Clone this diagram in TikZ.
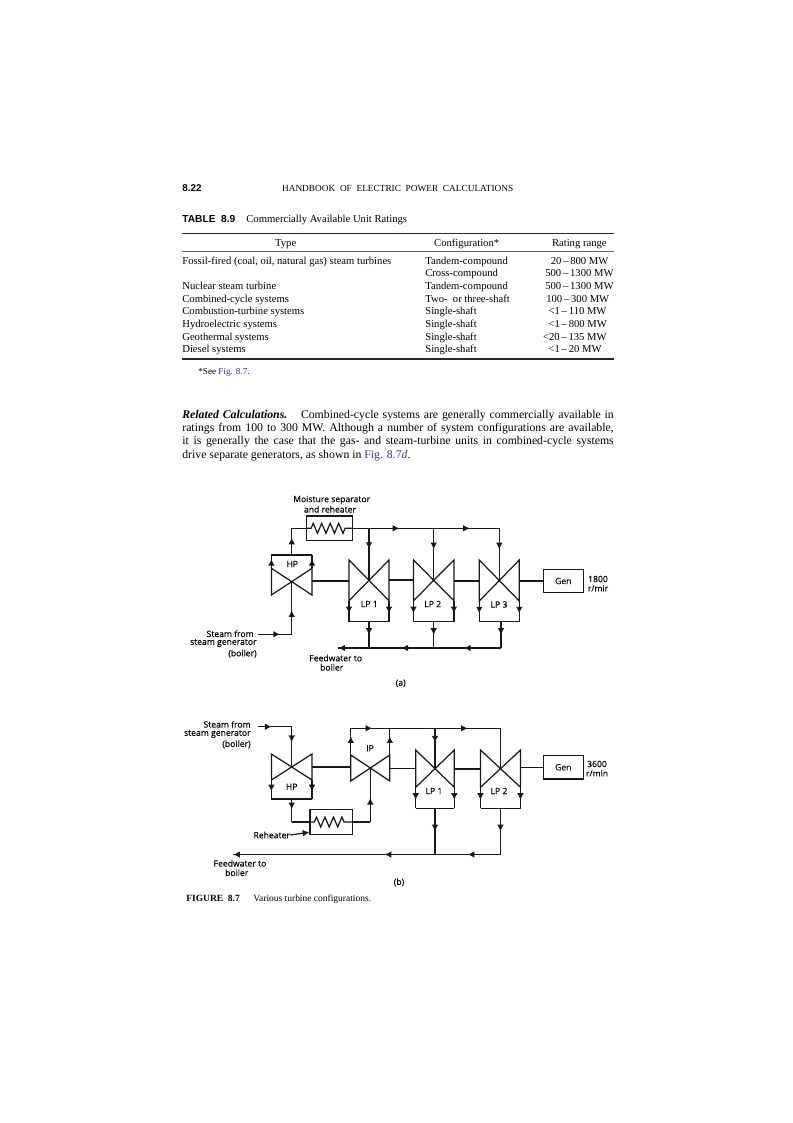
\documentclass[tikz,border=0pt]{standalone}
\usepackage{fontspec}
\setmainfont{Liberation Serif}
\setsansfont{Liberation Sans}
\newfontfamily\figfont[FakeBold=0.35]{Open Sans}
\usetikzlibrary{arrows.meta,decorations.markings,decorations.pathmorphing}
\definecolor{azulref}{RGB}{50,50,150}
\tikzset{
    linea/.style={line width=0.7pt, black!90},
    eje/.style={line width=1.1pt, black!90},
    flecha/.style={postaction={decorate, decoration={markings, mark=at position #1 with {\arrow{Latex[length=3.8pt,width=3.8pt]}}}}},
    serpentin/.style={decorate, decoration={zigzag, segment length=0.17cm, amplitude=0.1cm, pre length=0.1cm, post length=0.1cm}},
    recal/.style={draw, linea, minimum height=0.49cm, inner sep=0pt},
    gen/.style={draw, linea, minimum width=0.8cm, minimum height=0.47cm, inner sep=0pt, font=\figfont\fontsize{4.9}{6}\selectfont},
    etiq/.style={inner sep=0pt, black, font=\figfont\fontsize{4.9}{6}\selectfont},
    tabla/.style={inner sep=0pt, anchor=base west, font=\fontsize{6.05}{7}\selectfont},
    regla/.style={line width=0.7pt, black!85}
}
\begin{document}
\begin{tikzpicture}[x=0.02cm, y=-0.02cm]
    \useasboundingbox (0,0) rectangle (793,1123);

    % Encabezado
    \node[tabla, font=\sffamily\bfseries\fontsize{5.6}{7}\selectfont] (pagina) at (182,191) {8.22};
    \node[tabla, font=\fontsize{5.3}{7}\selectfont, anchor=base] (titulo) at (397.7,191) {HANDBOOK\ \ OF\ \ ELECTRIC\ \ POWER\ \ CALCULATIONS};
    \node[tabla, font=\sffamily\bfseries\fontsize{5.8}{7}\selectfont] (tablanum) at (182,222) {TABLE\ \ 8.9};
    \node[tabla] (tablatit) at (246,222) {Commercially Available Unit Ratings};

    % Tabla
    \coordinate (r1a) at (182,233.3);
    \coordinate (r1b) at (613.5,233.3);
    \coordinate (r2a) at (182,251);
    \coordinate (r2b) at (613.5,251);
    \coordinate (r3a) at (182,359);
    \coordinate (r3b) at (613.5,359);
    \draw[regla] (r1a) -- (r1b);
    \draw[line width=0.3pt, black!60] (r2a) -- (r2b);
    \draw[regla] (r3a) -- (r3b);
    \node[tabla, anchor=base] (col1) at (285.7,246) {Type};
    \node[tabla, anchor=base] (col2) at (466.7,246) {Configuration*};
    \node[tabla, anchor=base] (col3) at (579.3,246) {Rating range};
    \foreach \i/\y/\tipo/\conf/\xr/\rango in {
        1/264.2/{Fossil-fired (coal, oil, natural gas) steam turbines}/{Tandem-compound}/550.5/{20\,--\,800 MW},
        2/276.9/{}/{Cross-compound}/545/{500\,--\,1300 MW},
        3/289.5/{Nuclear steam turbine}/{Tandem-compound}/545/{500\,--\,1300 MW},
        4/302.2/{Combined-cycle systems}/{Two-\ \ or three-shaft}/546/{100\,--\,300 MW},
        5/314.9/{Combustion-turbine systems}/{Single-shaft}/548.3/{<1\,--\,110 MW},
        6/327.5/{Hydroelectric systems}/{Single-shaft}/548.3/{<1\,--\,800 MW},
        7/340.2/{Geothermal systems}/{Single-shaft}/542.7/{<20\,--\,135 MW},
        8/352.9/{Diesel systems}/{Single-shaft}/548.3/{<1\,--\,20 MW}} {
        \node[tabla] (tipo\i) at (182,\y) {\tipo};
        \node[tabla] (conf\i) at (425,\y) {\conf};
        \node[tabla] (rango\i) at (\xr,\y) {\rango};
    }
    \node[tabla, font=\fontsize{5.2}{7}\selectfont] (nota) at (198,374) {*See \textcolor{azulref}{Fig. 8.7}.};

    % Texto
    \node[inner sep=0pt, anchor=north west, text width=8.63cm, align=justify, font=\fontsize{6.7}{7.5}\selectfont] (parrafo) at (182,410) {\textbf{\textit{Related Calculations.}}\hspace{0.6em} Combined-cycle systems are generally commercially available in\linebreak
    ratings from 100 to 300 MW. Although a number of system configurations are available,\linebreak
    it is generally the case that the gas- and steam-turbine units in combined-cycle systems\linebreak
    drive separate generators, as shown in \textcolor{azulref}{Fig. 8.7\textit{d}}.\par};

    % Turbinas con la carcasa abajo
    \foreach \n/\x/\y/\w/\s/\i/\c in {lpuA/369/580/20/20/20.7/621.7, lpdA/433.7/580.7/20.2/20.7/20/621.7, lptA/499.3/581/20/21/20/621.7, hpB/291.7/767.3/20.3/13.3/12.7/799, lpuB/435/769/19.3/19/18.3/808.3, lpdB/500.5/768.3/20/18.3/19/808.3} {
        \coordinate (\n) at (\x,\y);
        \coordinate (\n a) at (\x-\w,\y-\s);
        \coordinate (\n b) at (\x+\w,\y-\s);
        \coordinate (\n c) at (\x-\w,\y+\i);
        \coordinate (\n d) at (\x+\w,\y+\i);
        \coordinate (\n e) at (\x-\w,\c);
        \coordinate (\n f) at (\x+\w,\c);
        \draw[linea] (\n a) -- (\n d) -- (\n b) -- (\n c) -- cycle;
        \draw[linea, flecha=0.6] (\n c) -- (\n e);
        \draw[linea, flecha=0.6] (\n d) -- (\n f);
        \draw[linea] (\n e) -- (\n f);
    }

    % Turbinas con la carcasa arriba
    \foreach \n/\x/\y/\w/\s/\i/\c in {hpA/291.7/580.7/20.3/12.4/14.3/555, ipB/370.3/768.3/19.5/13.3/12.7/728.3} {
        \coordinate (\n) at (\x,\y);
        \coordinate (\n a) at (\x-\w,\y-\s);
        \coordinate (\n b) at (\x+\w,\y-\s);
        \coordinate (\n c) at (\x-\w,\y+\i);
        \coordinate (\n d) at (\x+\w,\y+\i);
        \coordinate (\n e) at (\x-\w,\c);
        \coordinate (\n f) at (\x+\w,\c);
        \draw[linea] (\n a) -- (\n d) -- (\n b) -- (\n c) -- cycle;
        \draw[linea] (\n e) -- (\n f);
        \draw[linea, flecha=0.7] (\n a) -- (\n e);
        \draw[linea, flecha=0.7] (\n b) -- (\n f);
    }

    % Figura (a)
    \node[recal, minimum width=0.92cm] (recA) at (329.7,528.3) {};
    \node[gen] (genA) at (563.3,581) {Gen};
    \node[etiq] (hpAt) at (292.3,564) {HP};
    \node[etiq] (lpuAt) at (369.3,604) {LP 1};
    \node[etiq] (lpdAt) at (432.7,604) {LP 2};
    \node[etiq] (lptAt) at (499,604.5) {LP 3};
    \node[etiq] (rpmA) at (598,579) {1800};
    \node[etiq] (rminA) at (598,588.3) {r/mir};
    \node[etiq] (sepA) at (331.7,500) {Moisture separator};
    \node[etiq] (sepB) at (330,509.3) {and reheater};
    \node[etiq, anchor=east] (vapA) at (254,633.7) {Steam from};
    \node[etiq, anchor=east] (vapB) at (257,643) {steam generator};
    \node[etiq, anchor=east] (vapC) at (257,653.7) {(boiler)};
    \node[etiq] (aguaA) at (335.7,658) {Feedwater to};
    \node[etiq] (aguaB) at (331.7,667.3) {boiler};
    \node[etiq] (letraA) at (400.7,683.3) {(a)};

    \coordinate (hpAs) at (hpA |- hpAe);
    \coordinate (ca) at (hpA |- recA);
    \coordinate (cb) at (lpuA |- recA);
    \coordinate (cc) at (lpdA |- recA);
    \coordinate (cd) at (lptA |- recA);
    \coordinate (va) at (258.3,634.3);
    \coordinate (vb) at (hpA |- va);
    \coordinate (fa) at (338.3,648);
    \coordinate (fb) at (lpuA |- fa);
    \coordinate (fc) at (lpdA |- fa);
    \coordinate (fd) at (501,648);
    \coordinate (lpuAs) at (lpuA |- lpuAe);
    \coordinate (lpdAs) at (lpdA |- lpdAe);
    \coordinate (lptAs) at (fd |- lptAe);

    \draw[linea, flecha=0.65] (hpAs) -- (ca);
    \draw[linea] (ca) -- (recA.west);
    \draw[linea, serpentin] (recA.west) -- (recA.east);
    \draw[linea] (recA.east) -- (cb);
    \draw[linea, flecha=0.47] (cb) -- (cc);
    \draw[linea, flecha=0.55] (cc) -- (cd);
    \draw[linea, flecha=0.4] (cb) -- (lpuA);
    \draw[linea, flecha=0.4] (cc) -- (lpdA);
    \draw[linea, flecha=0.4] (cd) -- (lptA);
    \draw[linea, flecha=0.65] (va) -- (vb);
    \draw[linea, flecha=0.45] (vb) -- (hpA);
    \draw[linea, flecha=0.5] (lpuAs) -- (fb);
    \draw[linea, flecha=0.5] (lpdAs) -- (fc);
    \draw[linea, flecha=0.5] (lptAs) -- (fd);
    \draw[linea, flecha=0.55] (fd) -- (fc);
    \draw[linea, flecha=0.5] (fc) -- (fb);
    \draw[linea, flecha=1] (fb) -- (fa);
    \draw[eje] (hpAb |- hpA) -- (lpuAa |- hpA);
    \draw[eje] (lpuAb |- lpuA) -- (lpdAa |- lpuA);
    \draw[eje] (lpdAb |- lpdA) -- (lptAa |- lpdA);
    \draw[eje] (lptAb |- genA) -- (genA.west);

    % Figura (b)
    \node[recal, minimum width=0.854cm] (recB) at (331.3,822) {};
    \node[gen] (genB) at (563.3,767.3) {Gen};
    \node[etiq] (hpBt) at (291.7,786.7) {HP};
    \node[etiq] (ipBt) at (370,748.3) {IP};
    \node[etiq] (lpuBt) at (434,791) {LP 1};
    \node[etiq] (lpdBt) at (499,791) {LP 2};
    \node[etiq] (rpmB) at (597,764) {3600};
    \node[etiq] (rminB) at (597,773.3) {r/min};
    \node[etiq, anchor=east] (vbpA) at (251,724.3) {Steam from};
    \node[etiq, anchor=east] (vbpB) at (251,734) {steam generator};
    \node[etiq, anchor=east] (vbpC) at (251,744.3) {(boiler)};
    \node[etiq] (etiqrec) at (271.7,835) {Reheater};
    \node[etiq] (aguaC) at (240,863.3) {Feedwater to};
    \node[etiq] (aguaD) at (236.7,872.7) {boiler};
    \node[etiq] (letraB) at (399,882.3) {(b)};

    \coordinate (wa) at (258.3,726.7);
    \coordinate (wb) at (hpB |- wa);
    \coordinate (hpBs) at (hpB |- hpBe);
    \coordinate (sa) at (hpB |- recB);
    \coordinate (sb) at (ipB |- recB);
    \coordinate (tb) at (lpuB |- ipBf);
    \coordinate (tc) at (lpdB |- ipBf);
    \coordinate (lpuBs) at (lpuB |- lpuBe);
    \coordinate (lpdBs) at (lpdB |- lpdBe);
    \coordinate (ga) at (233.3,854.5);
    \coordinate (gb) at (lpuB |- ga);
    \coordinate (gc) at (lpdB |- ga);

    \draw[linea, flecha=0.4] (wa) -- (wb);
    \draw[linea, flecha=0.38] (wb) -- (hpB);
    \draw[linea, flecha=0.45] (hpBs) -- (sa);
    \draw[linea] (sa) -- (recB.west);
    \draw[linea, serpentin] (recB.west) -- (recB.east);
    \draw[linea] (recB.east) -- (sb);
    \draw[linea, flecha=0.45] (sb) -- (ipB);
    \draw[linea, flecha=0.55] (ipBe) -- (ipBf);
    \draw[linea] (ipBf) -- (tb);
    \draw[linea, flecha=0.5] (tb) -- (tc);
    \draw[linea, flecha=0.35] (tb) -- (lpuB);
    \draw[linea] (tc) -- (lpdB);
    \draw[linea, flecha=0.5] (lpuBs) -- (gb);
    \draw[linea, flecha=0.5] (lpdBs) -- (gc);
    \draw[linea, flecha=0.5] (gc) -- (gb);
    \draw[linea, flecha=0.25, flecha=1] (gb) -- (ga);
    \draw[linea, -{Latex[length=3.8pt,width=3.8pt]}] (etiqrec.east) -- (recB.205);
    \draw[eje] (hpBb |- hpB) -- (ipBa |- hpB);
    \draw[linea] (ipBb |- ipB) -- (lpuBa |- ipB);
    \draw[linea] (lpuBb |- lpuB) -- (lpdBa |- lpuB);
    \draw[linea] (lpdBb |- genB) -- (genB.west);

    % Pie de figura
    \node[tabla, font=\bfseries\fontsize{5.4}{7}\selectfont] (pieA) at (186,901.5) {FIGURE\ \ 8.7};
    \node[tabla, font=\fontsize{5.4}{7}\selectfont] (pieB) at (253,901.5) {Various turbine configurations.};
\end{tikzpicture}
\end{document}
